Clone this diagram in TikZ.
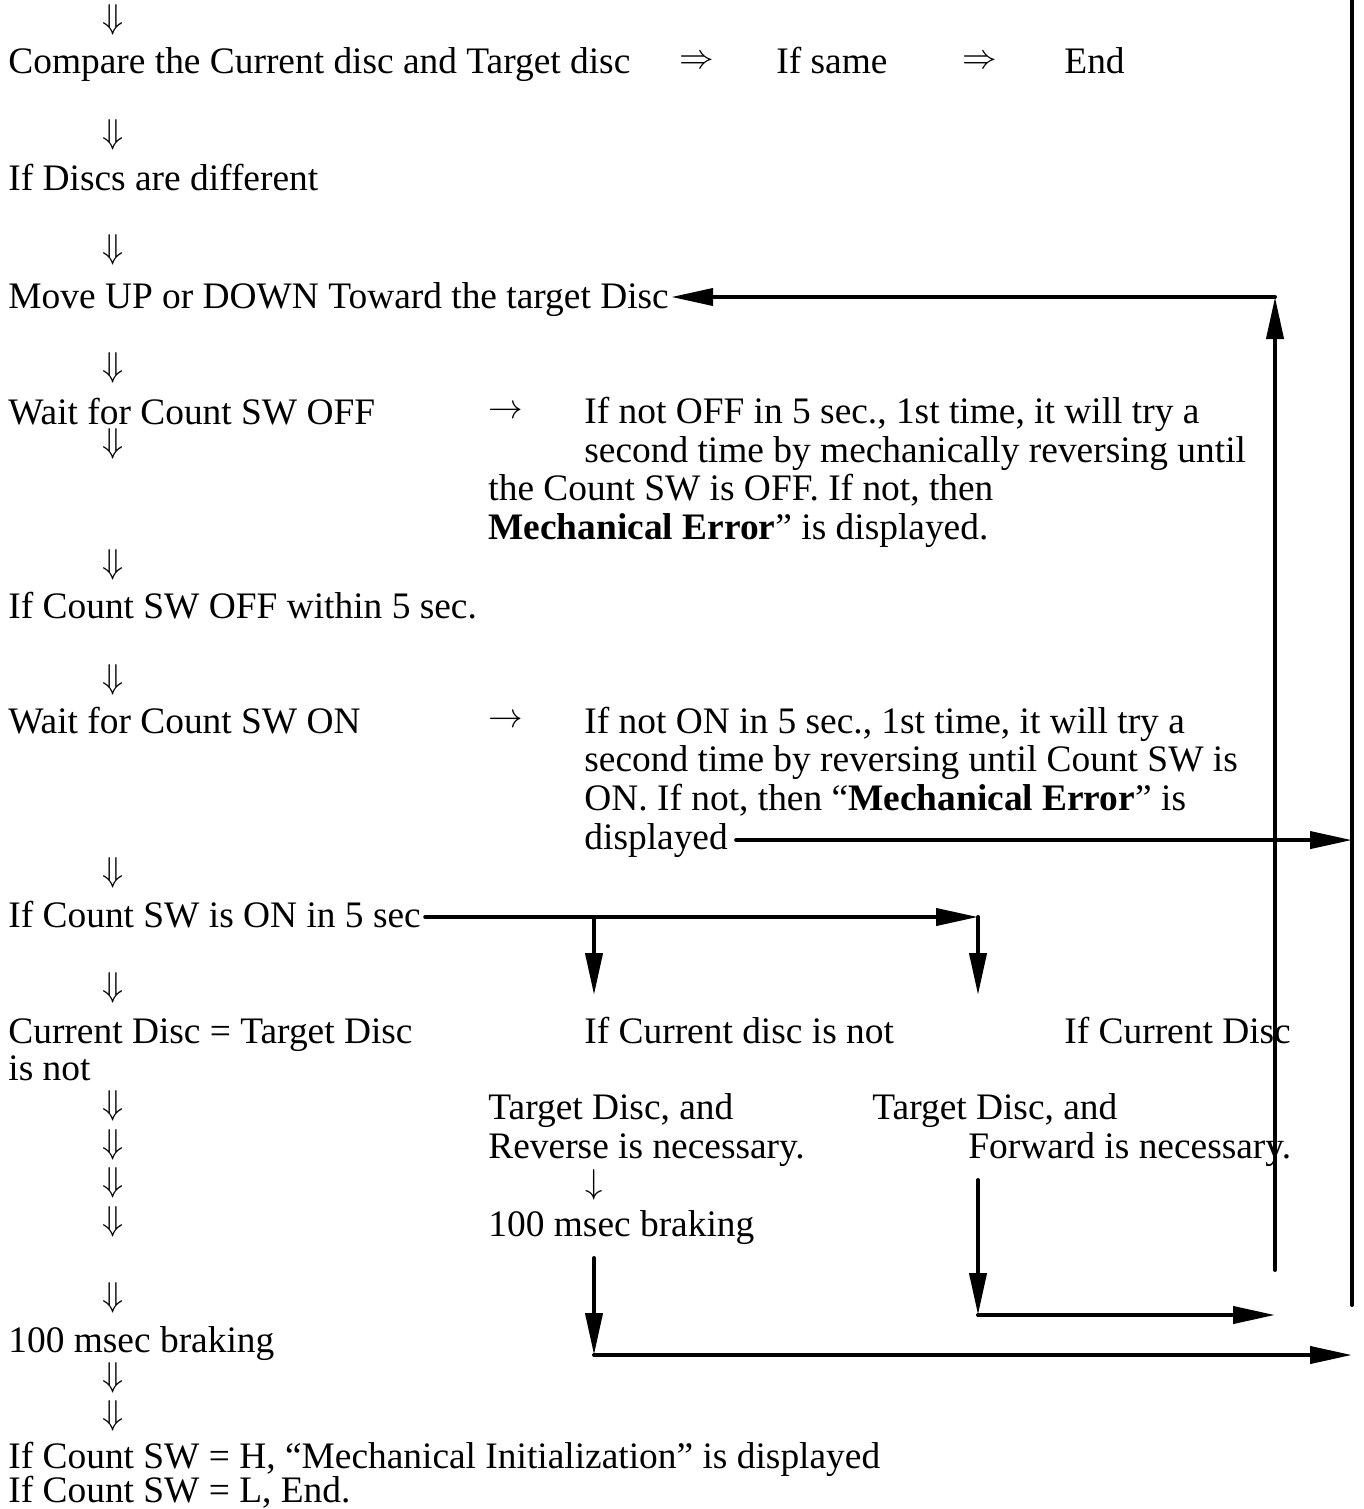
\documentclass[tikz,border=0pt]{standalone}
\usepackage{fontspec}
\setmainfont{Liberation Serif}
\usetikzlibrary{arrows.meta}
\tikzset{
  txt/.style={
    anchor=base west, inner sep=0pt,
    font=\fontsize{18.7}{19.25}\selectfont
  },
  note/.style={txt, align=left},
  sym/.style={
    anchor=center, inner sep=0pt,
    font=\fontsize{18.7}{19.25}\selectfont
  },
  arr/.style  = {-{Triangle[length=21pt, width=8.5pt]}, line width=2pt, line cap=round},
  rail/.style = {line width=2pt, line cap=round},
}

\begin{document}
\begin{tikzpicture}[x=0.5pt, y=-0.5pt]
\useasboundingbox (0,0) rectangle (1364,1509);

%% ── Down arrows of the main column ──────────────────────────────────────────
\foreach \y [count=\i] in {20,135,250,368,444,565,680,873,988,1106,1145,1183,1222,1298,1378,1416}
  \node[sym] (dn\i) at (113,\y) {$\Downarrow$};

%% ── Main column (left) ──────────────────────────────────────────────────────
\node[txt] (cmp)   at (8,  74)  {Compare the Current disc and Target disc};
\node[txt] (diff)  at (8, 190)  {If Discs are different};
\node[txt] (move)  at (8, 308)  {Move UP or DOWN Toward the target Disc};
\node[txt] (woff)  at (8, 424)  {Wait for Count SW OFF};
\node[txt] (off5)  at (8, 618)  {If Count SW OFF within 5 sec.};
\node[txt] (won)   at (8, 733)  {Wait for Count SW ON};
\node[txt] (on5)   at (8, 927)  {If Count SW is ON in 5 sec};
\node[txt] (same)  at (8,1043)  {Current Disc = Target Disc};
\node[txt] (isnot) at (8,1080)  {is not};
\node[txt] (brk)   at (8,1352)  {100 msec braking};
\node[txt] (high)  at (8,1468)  {If Count SW = H, “Mechanical Initialization” is displayed};
\node[txt] (low)   at (8,1502)  {If Count SW = L, End.};

%% ── Top line: same disc ─────────────────────────────────────────────────────
\node[sym] (then1) at (697,62)  {$\Rightarrow$};
\node[txt] (ifsame) at (776,74) {If same};
\node[sym] (then2) at (980,62)  {$\Rightarrow$};
\node[txt] (fin)   at (1064,74) {End};

%% ── Time-out notes ──────────────────────────────────────────────────────────
\node[sym] (to1) at (506,412) {$\rightarrow$};
\node[note] (offnote) at (488,539) {\hspace*{48pt}If not OFF in 5 sec., 1st time, it will try a\\
  \hspace*{48pt}second time by mechanically reversing until\\
  the Count SW is OFF. If not, then\\
  \textbf{Mechanical Error}” is displayed.};
\node[sym] (to2) at (506,721) {$\rightarrow$};
\node[note] (onnote) at (584,810) {If not ON in 5 sec., 1st time, it will try a\\
  second time by reversing until Count SW is\\
  ON. If not, then “\textbf{Mechanical Error}” is};
\node[txt] (disp) at (584,849) {displayed};

%% ── Branches: reverse / forward ─────────────────────────────────────────────
\node[txt] (rev1) at (584,1043) {If Current disc is not};
\node[txt] (rev2) at (488,1119) {Target Disc, and};
\node[txt] (rev3) at (488,1158) {Reverse is necessary.};
\node[sym] (rev4) at (594,1185) {$\downarrow$};
\node[txt] (rev5) at (488,1236) {100 msec braking};
\node[txt] (fwd1) at (1064,1043) {If Current Disc};
\node[txt] (fwd2) at (872,1119)  {Target Disc, and};
\node[txt] (fwd3) at (968,1158)  {Forward is necessary.};

%% ── Corner points ───────────────────────────────────────────────────────────
\coordinate (railTop)  at (1352,0);
\coordinate (railBot)  at (1352,1305);
\coordinate (loopTop)  at (1275,297);
\coordinate (loopBot)  at (1275,1270);
\coordinate (splitL)   at (594,917);
\coordinate (splitR)   at (978,917);
\coordinate (revIn)    at (594,995);
\coordinate (fwdIn)    at (978,995);
\coordinate (revOut)   at (594,1258);
\coordinate (revCorner) at (594,1355);
\coordinate (fwdOut)   at (978,1180);
\coordinate (fwdCorner) at (978,1315);

%% ── Connectors ──────────────────────────────────────────────────────────────
\draw[rail] (railTop) -- (railBot);
\draw[arr] (loopBot) -- (loopTop);
\draw[arr] (loopTop) -- ([xshift=1pt]move.east |- loopTop);
\draw[arr] ([xshift=4pt]disp.east) -- (railTop |- disp.east);
\draw[arr] ([xshift=2pt]on5.east |- splitR) -- (splitR);
\draw[arr] (splitL) -- (revIn);
\draw[arr] (splitR) -- (fwdIn);
\draw[arr] (revOut) -- (revCorner);
\draw[arr] (revCorner) -- (railTop |- revCorner);
\draw[arr] (fwdOut) -- (fwdCorner);
\draw[arr] (fwdCorner) -- (loopTop |- fwdCorner);

\end{tikzpicture}
\end{document}
